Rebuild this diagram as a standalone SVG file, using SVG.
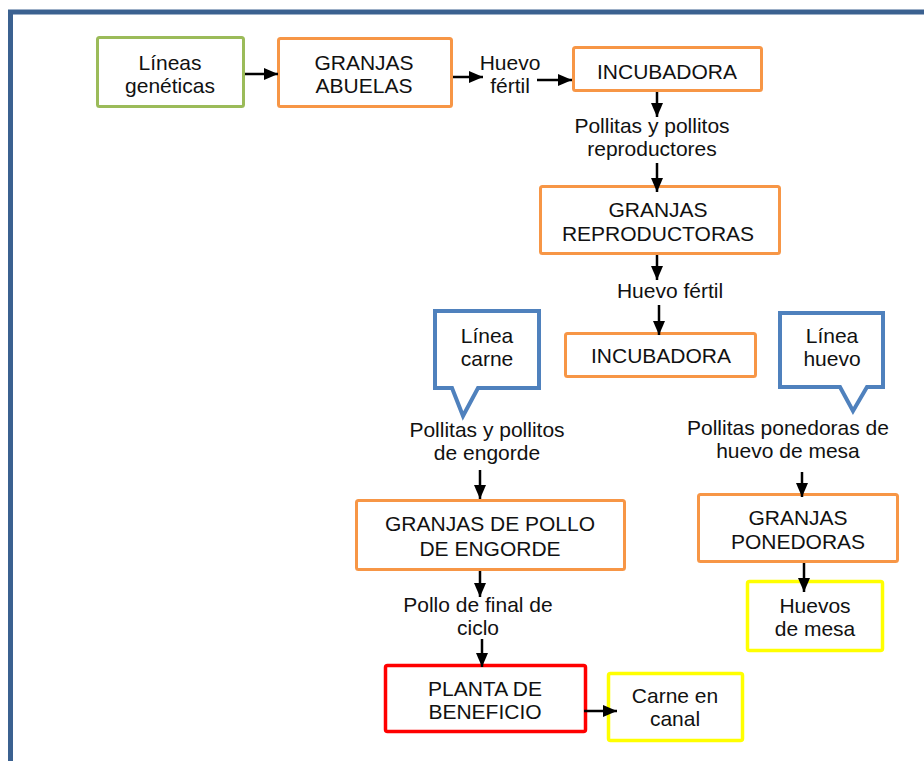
<svg xmlns="http://www.w3.org/2000/svg" width="924" height="761" viewBox="0 0 924 761">
  <defs>
    <marker id="arrow" markerUnits="userSpaceOnUse" markerWidth="15" markerHeight="15" viewBox="0 0 15 15" refX="14" refY="7.5" orient="auto">
      <path d="M0,1.5 L14,7.5 L0,13.5 Z" fill="#000"/>
    </marker>
    <style>
      text { font-family: "Liberation Sans", Arial, sans-serif; font-size: 21px; fill: #111; text-anchor: middle; }
      .box { fill: #fff; stroke-width: 3; }
      .orange { stroke: #F79646; }
      .green { stroke: #9BBB59; }
      .red { stroke: #FF0000; stroke-width: 3.5; }
      .yellow { stroke: #FFFF00; stroke-width: 3.5; }
      .callout { fill: #fff; stroke: #4F81BD; stroke-width: 4; stroke-linejoin: miter; }
      .conn line { stroke: #000; stroke-width: 2.5; marker-end: url(#arrow); }
    </style>
  </defs>

  <rect width="924" height="761" fill="#fff"/>
  <!-- outer frame -->
  <rect x="10.5" y="12" width="1000" height="1000" fill="none" stroke="#3B6190" stroke-width="5"/>

  <g id="lineas-geneticas">
    <rect class="box green" x="97.5" y="37.5" width="146" height="69" rx="2"/>
    <text x="170" y="70">Líneas</text>
    <text x="170" y="93">genéticas</text>
  </g>

  <g id="granjas-abuelas">
    <rect class="box orange" x="278.5" y="38.5" width="173" height="68" rx="2"/>
    <text x="364" y="70">GRANJAS</text>
    <text x="364" y="93">ABUELAS</text>
  </g>

  <g id="huevo-fertil-1">
    <text x="510" y="70">Huevo</text>
    <text x="510" y="93">fértil</text>
  </g>

  <g id="incubadora-1">
    <rect class="box orange" x="573.5" y="47.5" width="188" height="43" rx="2"/>
    <text x="667" y="79">INCUBADORA</text>
  </g>

  <g id="pollitos-reproductores">
    <text x="652" y="133">Pollitas y pollitos</text>
    <text x="652" y="156">reproductores</text>
  </g>

  <g id="granjas-reproductoras">
    <rect class="box orange" x="540.5" y="186.5" width="239" height="67" rx="2"/>
    <text x="658" y="217">GRANJAS</text>
    <text x="658" y="241">REPRODUCTORAS</text>
  </g>

  <g id="huevo-fertil-2">
    <text x="670" y="298">Huevo fértil</text>
  </g>

  <g id="incubadora-2">
    <rect class="box orange" x="565.5" y="333.5" width="190" height="43" rx="2"/>
    <text x="661" y="363">INCUBADORA</text>
  </g>

  <g id="linea-carne">
    <path class="callout" d="M435,311 H539 V388 H478 L463,416 L452,388 H435 Z"/>
    <text x="487" y="343">Línea</text>
    <text x="487" y="366">carne</text>
  </g>

  <g id="linea-huevo">
    <path class="callout" d="M780,313 H883 V387 H867 L853,411 L840,387 H780 Z"/>
    <text x="832" y="343">Línea</text>
    <text x="832" y="366">huevo</text>
  </g>

  <g id="pollitos-engorde">
    <text x="487" y="437">Pollitas y pollitos</text>
    <text x="487" y="460">de engorde</text>
  </g>

  <g id="pollitas-ponedoras">
    <text x="788" y="435">Pollitas ponedoras de</text>
    <text x="788" y="458">huevo de mesa</text>
  </g>

  <g id="granjas-engorde">
    <rect class="box orange" x="356.5" y="500.5" width="268" height="69" rx="2"/>
    <text x="490" y="531">GRANJAS DE POLLO</text>
    <text x="490" y="556">DE ENGORDE</text>
  </g>

  <g id="granjas-ponedoras">
    <rect class="box orange" x="698.5" y="494.5" width="199" height="67" rx="2"/>
    <text x="798" y="525">GRANJAS</text>
    <text x="798" y="549">PONEDORAS</text>
  </g>

  <g id="huevos-de-mesa">
    <rect class="box yellow" x="747.5" y="581.5" width="135" height="69" rx="2"/>
    <text x="815" y="613">Huevos</text>
    <text x="815" y="636">de mesa</text>
  </g>

  <g id="pollo-final-ciclo">
    <text x="478" y="612">Pollo de final de</text>
    <text x="478" y="635">ciclo</text>
  </g>

  <g id="planta-beneficio">
    <rect class="box red" x="385.5" y="665.5" width="200" height="66" rx="2"/>
    <text x="485" y="696">PLANTA DE</text>
    <text x="485" y="719">BENEFICIO</text>
  </g>

  <g id="carne-en-canal">
    <rect class="box yellow" x="608.5" y="673.5" width="134" height="67" rx="2"/>
    <text x="675" y="703">Carne en</text>
    <text x="675" y="726">canal</text>
  </g>

  <g id="connectors" class="conn">
    <line x1="245" y1="74" x2="278" y2="74"/>
    <line x1="453" y1="77" x2="483" y2="77"/>
    <line x1="537" y1="80" x2="572" y2="80"/>
    <line x1="657" y1="92" x2="657" y2="117"/>
    <line x1="657" y1="163" x2="657" y2="192"/>
    <line x1="657" y1="255" x2="657" y2="280"/>
    <line x1="659" y1="305" x2="659" y2="335"/>
    <line x1="480" y1="470" x2="480" y2="499"/>
    <line x1="802" y1="472" x2="802" y2="497"/>
    <line x1="480" y1="571" x2="480" y2="597"/>
    <line x1="804" y1="563" x2="804" y2="592"/>
    <line x1="482" y1="639" x2="482" y2="667"/>
    <line x1="584" y1="711" x2="617" y2="711"/>
  </g>
</svg>
